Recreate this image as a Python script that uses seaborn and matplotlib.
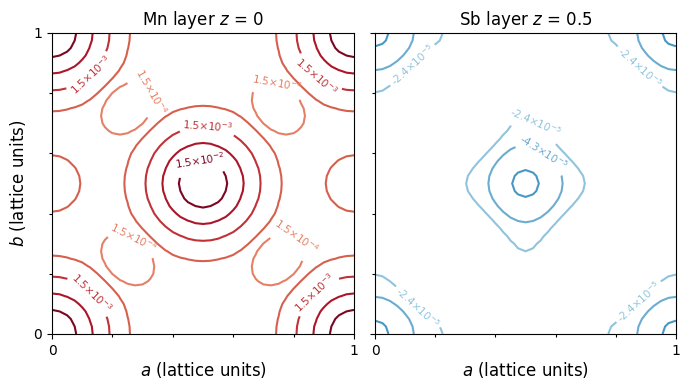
import numpy as np
import matplotlib
matplotlib.use("Agg")
import matplotlib.pyplot as plt
import seaborn as sns
from matplotlib.ticker import MultipleLocator

# ---- contour levels of the spin density -------------------------------
mn_levels = [1.5e-4, 4.7e-4, 1.5e-3, 4.7e-3, 1.5e-2]
mn_labelled = [1.5e-4, 1.5e-3, 1.5e-2]
sb_levels = [-7.7e-5, -4.3e-5, -2.4e-5]
sb_labelled = [-4.3e-5, -2.4e-5]

# positions of each level on the RdBu_r colour map
mn_colour_pos = [0.75, 0.80, 0.86, 0.91, 0.97]
sb_colour_pos = [0.21, 0.25, 0.30]

# ---- density model in the (a, b) plane ----------------------------------
# atomic sites: amplitude * exp(-(r / decay)^power)
mn_sites = [(0.0, 0.0), (0.5, 0.5)]
mn_profile = dict(amp=0.0843, decay=0.0455, power=1.0)
mn_offset = 1.7e-4
# extra gaussian features: centre a, centre b, amplitude, width
mn_gauss_a = [0.25, 0.25, 0.75, 0.75, 0.0]
mn_gauss_b = [0.25, 0.75, 0.25, 0.75, 0.5]
mn_gauss_amp = [-5.5e-4, -5.5e-4, -5.5e-4, -5.5e-4, 5.0e-4]
mn_gauss_width = [0.05, 0.05, 0.05, 0.05, 0.0887]

sb_sites = [(0.0, 0.0), (0.5, 0.5)]
sb_profile = dict(amp=-1.0e-4, decay=0.13, power=1.0)
sb_offset = 0.0
sb_gauss_a = [0.25, 0.25, 0.75, 0.75, 0.5]
sb_gauss_b = [0.25, 0.75, 0.25, 0.75, 0.0]
sb_gauss_amp = [1.1e-4, 1.1e-4, 1.1e-4, 1.1e-4, -1.3e-5]
sb_gauss_width = [0.09, 0.09, 0.09, 0.09, 0.26]

n_grid = 41
a = np.linspace(0.0, 1.0, n_grid)
b = np.linspace(0.0, 1.0, n_grid)
A, B = np.meshgrid(a, b)
shifts = range(-2, 3)


def density(sites, profile, offset, ga, gb, gamp, gwidth):
    z = np.full_like(A, offset)
    for sx, sy in sites:
        for i in shifts:
            for j in shifts:
                r = np.hypot(A - sx - i, B - sy - j)
                z = z + profile["amp"] * np.exp(
                    -(r / profile["decay"]) ** profile["power"])
    for cx, cy, amp, w in zip(ga, gb, gamp, gwidth):
        for i in shifts:
            for j in shifts:
                r2 = (A - cx - i) ** 2 + (B - cy - j) ** 2
                z = z + amp * np.exp(-r2 / (2 * w ** 2))
    return z


mn_density = density(mn_sites, mn_profile, mn_offset,
                     mn_gauss_a, mn_gauss_b, mn_gauss_amp, mn_gauss_width)
sb_density = density(sb_sites, sb_profile, sb_offset,
                     sb_gauss_a, sb_gauss_b, sb_gauss_amp, sb_gauss_width)

# where the inline contour labels sit (data coordinates)
mn_label_spots = [(0.32, 0.80), (0.745, 0.83), (0.265, 0.305), (0.80, 0.31),
                  (0.513, 0.67), (0.116, 0.874), (0.88, 0.86), (0.115, 0.12),
                  (0.88, 0.127), (0.49, 0.57)]
sb_label_spots = [(0.54, 0.71), (0.56, 0.605), (0.14, 0.877), (0.87, 0.877),
                  (0.15, 0.097), (0.87, 0.113)]


def sci_label(v):
    e = int(np.floor(np.log10(abs(v))))
    m = v / 10 ** e
    return f"{m:.1f}×10$^{{{e}}}$"


sns.set_style("ticks", {"axes.edgecolor": "black", "xtick.color": "black",
                        "ytick.color": "black", "text.color": "black",
                        "axes.labelcolor": "black"})
cmap = sns.color_palette("RdBu_r", as_cmap=True)
mn_colours = [cmap(p) for p in mn_colour_pos]
sb_colours = [cmap(p) for p in sb_colour_pos]

fig = plt.figure(figsize=(6.9, 3.8), dpi=100)
ax_mn = fig.add_axes([0.0754, 0.1211, 0.4377, 0.7921])
ax_sb = fig.add_axes([0.5435, 0.1211, 0.4362, 0.7921], sharey=ax_mn)

panels = [
    (ax_mn, mn_density, mn_levels, mn_colours, mn_labelled, mn_label_spots,
     "Mn layer $z$ = 0"),
    (ax_sb, sb_density, sb_levels, sb_colours, sb_labelled, sb_label_spots,
     "Sb layer $z$ = 0.5"),
]
for ax, z, levels, colours, labelled, spots, title in panels:
    colour_of = dict(zip(levels, colours))
    plain = [lv for lv in levels if lv not in labelled]
    ax.contour(a, b, z, levels=plain, colors=[colour_of[lv] for lv in plain],
               linewidths=1.5, linestyles="solid")
    cs = ax.contour(a, b, z, levels=labelled,
                    colors=[colour_of[lv] for lv in labelled],
                    linewidths=1.5, linestyles="solid")
    ax.clabel(cs, fmt=sci_label, fontsize=7.5, inline=True,
              inline_spacing=3, manual=spots)
    ax.set_xlim(0, 1)
    ax.set_ylim(0, 1)
    ax.set_xticks([0, 1])
    ax.set_yticks([0, 1])
    ax.xaxis.set_minor_locator(MultipleLocator(0.2))
    ax.yaxis.set_minor_locator(MultipleLocator(0.2))
    ax.tick_params(which="both", labelsize=10, width=0.8)
    ax.tick_params(which="major", length=3.5)
    ax.tick_params(which="minor", length=2)
    for s in ax.spines.values():
        s.set_linewidth(0.8)
    ax.set_title(title, fontsize=12)
    ax.set_xlabel("$a$ (lattice units)", fontsize=12, labelpad=2)

ax_mn.set_ylabel("$b$ (lattice units)", fontsize=12)
ax_sb.tick_params(labelleft=False)

fig.savefig("out.png", dpi=100)
